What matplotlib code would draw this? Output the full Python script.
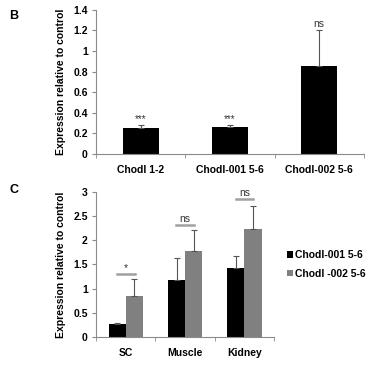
import numpy as np
import matplotlib.pyplot as plt

plt.rcParams['font.family'] = ['Liberation Sans', 'DejaVu Sans']

# panel B
b_labels = ['Chodl 1-2', 'Chodl-001 5-6', 'Chodl-002 5-6']
b_vals = [0.25, 0.26, 0.85]
b_err = [0.03, 0.02, 0.35]
b_sig = ['***', '***', 'ns']

# panel C
c_labels = ['SC', 'Muscle', 'Kidney']
c_001 = [0.26, 1.18, 1.43]
c_001_err = [0.03, 0.46, 0.25]
c_002 = [0.85, 1.78, 2.24]
c_002_err = [0.35, 0.44, 0.48]
c_sig = ['*', 'ns', 'ns']
c_sig_y = [1.30, 2.32, 2.86]
series_names = ['Chodl-001 5-6', 'Chodl -002 5-6']

spine_col = '#8a8a8a'
err_col = '#555555'


def style_axes(ax, ncat):
    for s in ['top', 'right']:
        ax.spines[s].set_visible(False)
    for s in ['left', 'bottom']:
        ax.spines[s].set_color(spine_col)
        ax.spines[s].set_linewidth(0.8)
    ax.set_xlim(-0.5, ncat - 0.5)
    ax.set_xticks(np.arange(ncat + 1) - 0.5, minor=True)
    ax.tick_params(axis='x', which='major', length=0, pad=8, labelsize=7.5)
    ax.tick_params(axis='x', which='minor', length=3, color=spine_col)
    ax.tick_params(axis='y', length=3, color=spine_col, labelsize=7.5, pad=3)
    for t in ax.get_xticklabels() + ax.get_yticklabels():
        t.set_fontweight('bold')
    ax.set_ylabel('Expression relative to control', fontsize=7.5, fontweight='bold', labelpad=5)


fig = plt.figure(figsize=(3.74, 3.65), dpi=100)

# ---- B ----
ax1 = fig.add_axes([0.257, 0.578, 0.716, 0.395])
x = np.arange(len(b_labels))
ax1.bar(x, b_vals, width=0.4, color='black')
ax1.errorbar(x, b_vals, yerr=[np.zeros(3), b_err], fmt='none', ecolor=err_col,
             elinewidth=0.8, capsize=2, capthick=0.8)
for xi, v, e, s in zip(x, b_vals, b_err, b_sig):
    ax1.text(xi, v + e + 0.01, s, ha='center', va='bottom', fontsize=7 if s != 'ns' else 7.5,
             color='#333333')
ax1.set_ylim(0, 1.4)
ax1.set_yticks([0, 0.2, 0.4, 0.6, 0.8, 1, 1.2, 1.4])
ax1.set_yticklabels(['0', '0.2', '0.4', '0.6', '0.8', '1', '1.2', '1.4'])
ax1.set_xticks(x)
ax1.set_xticklabels(b_labels)
style_axes(ax1, 3)

# ---- C ----
ax2 = fig.add_axes([0.257, 0.077, 0.476, 0.397])
x = np.arange(len(c_labels))
w = 0.29
ax2.bar(x - w / 2, c_001, width=w, color='black', label=series_names[0])
ax2.bar(x + w / 2, c_002, width=w, color='#808080', label=series_names[1])
ax2.errorbar(x - w / 2, c_001, yerr=[np.zeros(3), c_001_err], fmt='none', ecolor=err_col,
             elinewidth=0.8, capsize=2, capthick=0.8)
ax2.errorbar(x + w / 2, c_002, yerr=[np.zeros(3), c_002_err], fmt='none', ecolor=err_col,
             elinewidth=0.8, capsize=2, capthick=0.8)
for xi, s, yy in zip(x, c_sig, c_sig_y):
    ax2.plot([xi - 0.15, xi + 0.15], [yy, yy], color='#a0a0a0', lw=1.8)
    ax2.text(xi, yy + 0.02, s, ha='center', va='bottom', fontsize=7.5, color='#333333')
ax2.set_ylim(0, 3)
ax2.set_yticks([0, 0.5, 1, 1.5, 2, 2.5, 3])
ax2.set_yticklabels(['0', '0.5', '1', '1.5', '2', '2.5', '3'])
ax2.set_xticks(x)
ax2.set_xticklabels(c_labels)
style_axes(ax2, 3)
leg = ax2.legend(loc='center left', bbox_to_anchor=(1.02, 0.5), frameon=False,
                 handlelength=0.6, handleheight=0.6, handletextpad=0.2,
                 labelspacing=0.8, prop={'size': 7.5, 'weight': 'bold'})

fig.text(0.025, 0.955, 'B', fontsize=9, fontweight='bold', va='center')
fig.text(0.025, 0.48, 'C', fontsize=9, fontweight='bold', va='center')

fig.savefig('out.png', dpi=100)
